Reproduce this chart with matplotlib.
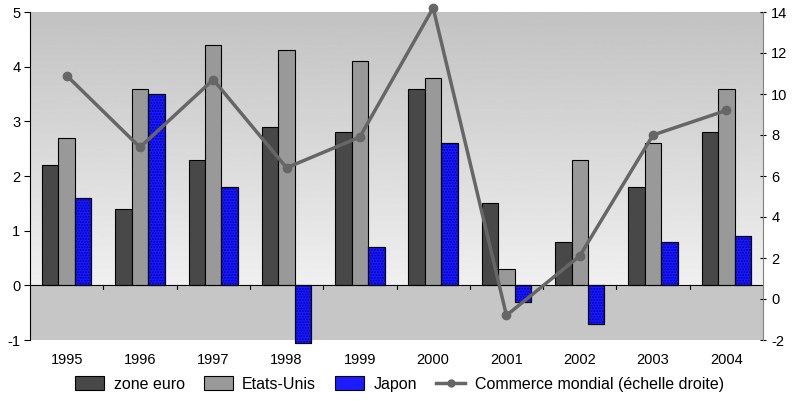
import numpy as np
import matplotlib
matplotlib.use("Agg")
import matplotlib.pyplot as plt
from matplotlib.lines import Line2D
from matplotlib.patches import Patch

plt.rcParams['font.family'] = ['Liberation Sans', 'DejaVu Sans']
plt.rcParams['axes.unicode_minus'] = False

years = ["1995", "1996", "1997", "1998", "1999", "2000", "2001", "2002", "2003", "2004"]
zone_euro = [2.2, 1.4, 2.3, 2.9, 2.8, 3.6, 1.5, 0.8, 1.8, 2.8]
etats_unis = [2.7, 3.6, 4.4, 4.3, 4.1, 3.8, 0.3, 2.3, 2.6, 3.6]
japon = [1.6, 3.5, 1.8, -1.05, 0.7, 2.6, -0.3, -0.7, 0.8, 0.9]
commerce = [10.9, 7.4, 10.7, 6.4, 7.9, 14.2, -0.8, 2.1, 8.0, 9.2]

fig = plt.figure(figsize=(7.99, 4.01), dpi=100)
ax = fig.add_axes([30 / 799, 1 - 340 / 401, 733 / 799, 328 / 401])

n = len(years)
x = np.arange(n)
ax.set_xlim(-0.5, n - 0.5)
ax.set_ylim(-1, 5)

# background: gradient above zero, flat gray below
grad = np.linspace(0.76, 0.94, 256).reshape(-1, 1)
ax.imshow(grad, cmap="gray", vmin=0, vmax=1, origin="upper",
          extent=[-0.5, n - 0.5, 0, 5], aspect="auto", zorder=0)
ax.axhspan(-1, 0, color="#c6c6c6", zorder=0, lw=0)

w = 0.225
kw = dict(edgecolor="black", linewidth=0.8, zorder=2)
ax.bar(x - w, zone_euro, w, color="#484848", **kw)
ax.bar(x, etats_unis, w, color="#999999", **kw)
ax.bar(x + w, japon, w, color="#1c1cff", clip_on=False, **kw)
ax.bar(x + w, japon, w, color="none", edgecolor="#0000b0", hatch="......",
       linewidth=0, zorder=2, clip_on=False)
ax.bar(x + w, japon, w, color="none", edgecolor="black", linewidth=0.8,
       zorder=2, clip_on=False)

ax.axhline(0, color="black", lw=0.8, zorder=3)

ax2 = ax.twinx()
ax2.set_ylim(-2, 14)
ax2.plot(x, commerce, color="#666666", lw=2.5, marker="o", ms=6, zorder=4,
         clip_on=False)
ax2.set_yticks(range(-2, 15, 2))

ax.set_yticks(range(-1, 6))
ax.set_xticks(x)
ax.set_xticklabels(years)
ax.tick_params(axis="x", length=0, pad=9, labelsize=10.5)
ax.tick_params(axis="y", length=4, labelsize=10.5, pad=3)
ax2.tick_params(axis="y", length=4, direction="inout", labelsize=10.5, pad=4,
                colors="black")

for a in (ax, ax2):
    a.spines["top"].set_visible(False)
    a.spines["bottom"].set_visible(False)
ax.spines["right"].set_visible(False)
ax.spines["left"].set_color("black")
ax2.spines["left"].set_visible(False)
ax2.spines["right"].set_color("#808080")

# category separators on the zero line
for xm in np.arange(0.5, n - 0.5):
    ax.plot([xm, xm], [0, -0.07], color="black", lw=0.8, zorder=3)

handles = [
    Patch(facecolor="#484848", edgecolor="black", lw=0.8),
    Patch(facecolor="#999999", edgecolor="black", lw=0.8),
    Patch(facecolor="#1c1cff", edgecolor="black", lw=0.8),
    Line2D([], [], color="#666666", lw=2.5, marker="o", ms=5),
]
labels = ["zone euro", "Etats-Unis", "Japon", "Commerce mondial (échelle droite)"]
fig.legend(handles, labels, loc="center", bbox_to_anchor=(0.5, 1 - 384 / 401),
           ncol=4, frameon=False, fontsize=11.5, handlelength=1.8,
           handleheight=0.9, columnspacing=1.2, handletextpad=0.6)

fig.savefig("out.png", dpi=100)
